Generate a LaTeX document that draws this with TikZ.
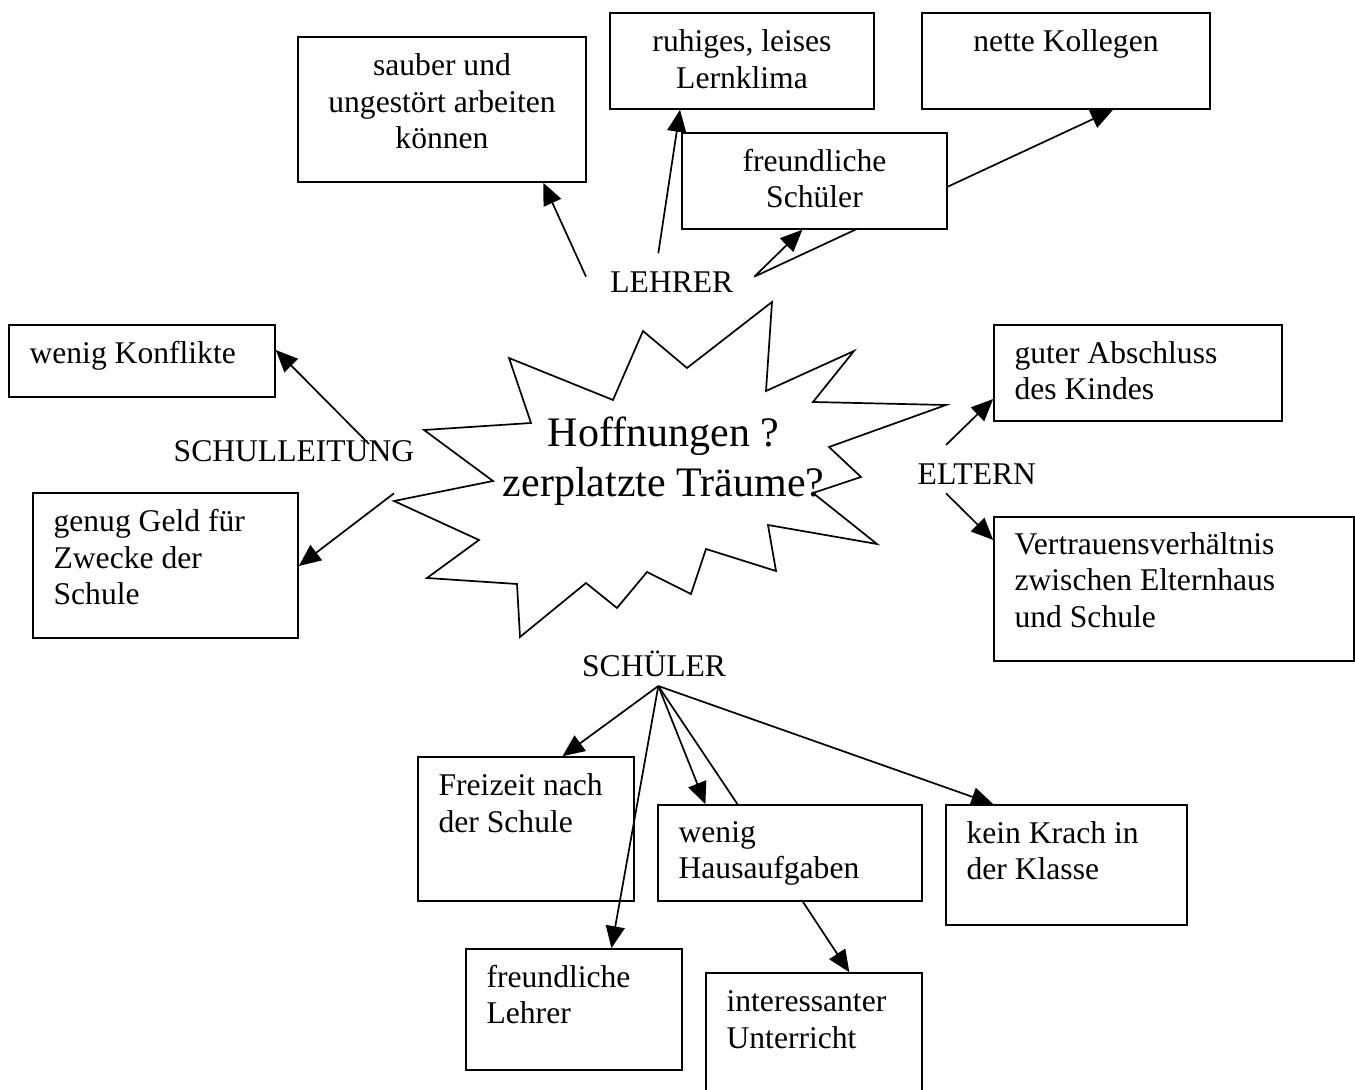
\documentclass[tikz,border=0pt]{standalone}
\usepackage{fontspec}
\setmainfont{Liberation Serif}
\usetikzlibrary{arrows.meta,fit}
\newcommand\linesL[1]{\begin{tabular}[t]{@{}l@{}}#1\end{tabular}}
\newcommand\linesC[1]{\begin{tabular}[t]{@{}c@{}}#1\end{tabular}}
\begin{document}
\begin{tikzpicture}[x=0.5pt,y=-0.5pt,
  box/.style={draw, line width=0.8pt, fill=white, inner sep=0pt},
  txt/.style={inner sep=0pt, font=\fontsize{15.8}{18.3}\selectfont},
  big/.style={inner sep=0pt, font=\fontsize{21}{25}\selectfont},
  conn/.style={line width=0.85pt},
  arr/.style={conn, -{Triangle[length=11pt,width=9.5pt]}},
  tc/.style={txt, anchor=base},
  tl/.style={txt, anchor=base west},
]
\path[fill=white] (0,0) rectangle (1355,1090);
\useasboundingbox (0,0) rectangle (1355,1090);

% star
\draw[line width=0.85pt] (772,302) -- (766,391) -- (854,351) -- (813,402) -- (946,405)
  -- (829,447) -- (861,477) -- (813,493) -- (877,544) -- (768,525) -- (776,571)
  -- (706,549) -- (691,594) -- (647,572) -- (617,608) -- (586,583) -- (520,637)
  -- (517,584) -- (427,578) -- (479,540) -- (394,501) -- (493,481) -- (424,430)
  -- (531,423) -- (509,358) -- (613,400) -- (643,331) -- (687,368) -- cycle;
\node[big, anchor=base] (hope) at (663.5,446.7) {\linesC{Hoffnungen ?\hspace{0.25em}\\zerplatzte Träume?}};

% boxes
\node[box, fit={(298,37)(586,182)}] (sauber) {};
\node[box, fit={(610,13)(874,109)}] (ruhig) {};
\node[box, fit={(922,13)(1210,109)}] (nette) {};
\node[box, fit={(9,325)(275,397)}] (konfl) {};
\node[box, fit={(33,493)(298,638)}] (geld) {};
\node[box, fit={(994,325)(1282,421)}] (absch) {};
\node[box, fit={(994,517)(1354,661)}] (vertr) {};
\node[box, fit={(418,757)(634,901)}] (freiz) {};
\node[box, fit={(658,805)(922,901)}] (haus) {};
\node[box, fit={(946,805)(1187,925)}] (krach) {};
\node[box, fit={(466,949)(682,1070)}] (flehr) {};
\node[box, fit={(706,973)(922,1100)}] (unter) {};

% labels and start points
\node[tl] (lehrer) at (610,292.7) {LEHRER};
\node[tl] (schulleitung) at (173.3,461.7) {SCHULLEITUNG};
\node[tl] (eltern) at (917.3,484.3) {ELTERN};
\node[tl] (schueler) at (581.7,676.7) {SCHÜLER};
\coordinate (lA) at (586,276.7);
\coordinate (lB) at (658.3,253.3);
\coordinate (lC) at (754.3,276.7);
\coordinate (sA) at (369,444);
\coordinate (sB) at (394,493.3);
\coordinate (eA) at (946,445);
\coordinate (eB) at (946,493.3);
\coordinate (sch) at (658.3,686);

% arrow to nette Kollegen passes behind the box freundliche Schueler
\draw[arr] (lC) -- ([xshift=23.5pt]nette.south);
\node[box, fit={(682,133)(947,229)}] (fsch) {};

% texts in boxes
\node[tc] (tSauber) at ([yshift=-19.75pt]sauber.north) {\linesC{sauber und\\ungestört arbeiten\\können}};
\node[tc] (tRuhig) at ([yshift=-19.75pt]ruhig.north) {\linesC{ruhiges, leises\\Lernklima}};
\node[tc] (tNette) at ([yshift=-19.75pt]nette.north) {nette Kollegen};
\node[tc] (tFsch) at ([yshift=-19.5pt]fsch.north) {\linesC{freundliche\\Schüler}};
\node[tl] (tKonfl) at ([xshift=10.5pt,yshift=-19.75pt]konfl.north west) {wenig Konflikte};
\node[tl] (tGeld) at ([xshift=10.5pt,yshift=-19.75pt]geld.north west) {\linesL{genug Geld für\\Zwecke der\\Schule}};
\node[tl] (tAbsch) at ([xshift=10.5pt,yshift=-19.5pt]absch.north west) {\linesL{guter Abschluss\\des Kindes}};
\node[tl] (tVertr) at ([xshift=10.5pt,yshift=-19pt]vertr.north west) {\linesL{Vertrauensverhältnis\\zwischen Elternhaus\\und Schule}};
\node[tl] (tFreiz) at ([xshift=10.5pt,yshift=-19.75pt]freiz.north west) {\linesL{Freizeit nach\\der Schule}};
\node[tl] (tHaus) at ([xshift=10.5pt,yshift=-19pt]haus.north west) {\linesL{wenig\\Hausaufgaben}};
\node[tl] (tKrach) at ([xshift=10.5pt,yshift=-19.5pt]krach.north west) {\linesL{kein Krach in\\der Klasse}};
\node[tl] (tFlehr) at ([xshift=10.5pt,yshift=-19.5pt]flehr.north west) {\linesL{freundliche\\Lehrer}};
\node[tl] (tUnter) at ([xshift=10.5pt,yshift=-19.75pt]unter.north west) {\linesL{interessanter\\Unterricht}};

% connectors
\draw[arr] (lA) -- ([xshift=50.65pt]sauber.south);
\draw[arr] (lB) -- ([xshift=-31pt]ruhig.south);
\draw[arr] (lC) -- ([xshift=-6.1pt]fsch.south);
\draw[arr] (sA) -- ([yshift=5.5pt]konfl.east);
\draw[arr] (sB) -- ([yshift=-0.25pt]geld.east);
\draw[arr] (eA) -- ([yshift=-13pt]absch.west);
\draw[arr] (eB) -- ([yshift=24.5pt]vertr.west);
\draw[arr] (sch) -- ([xshift=18.25pt]freiz.north);
\draw[arr] (sch) -- ([xshift=18.7pt]flehr.north);
\draw[arr] (sch) -- ([xshift=-42.3pt]haus.north);
\draw[conn] (sch) -- ([xshift=-26.25pt]haus.north);
\draw[arr] (sch) -- ([xshift=-36.6pt]krach.north);
\draw[arr] ([xshift=6.45pt]haus.south) -- ([xshift=17.65pt]unter.north);
\end{tikzpicture}
\end{document}
